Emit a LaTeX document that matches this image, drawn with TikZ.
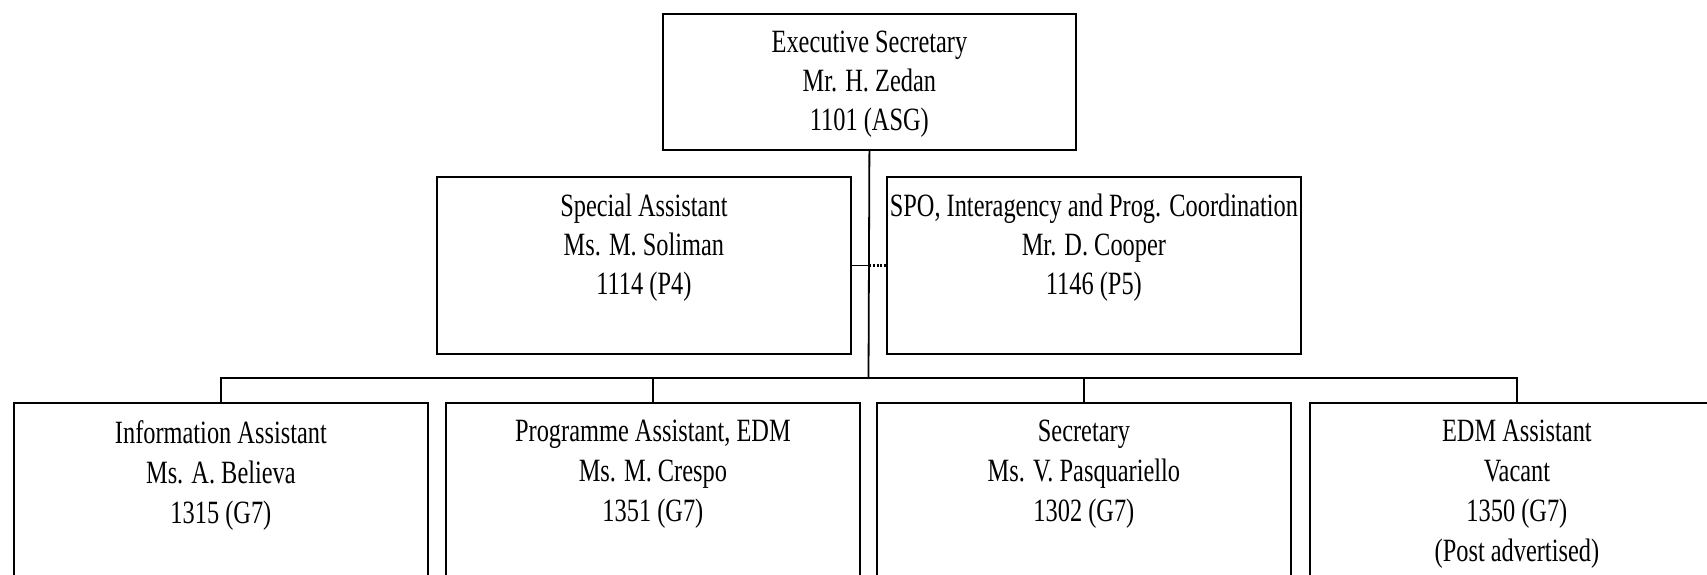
\documentclass[tikz,border=0pt]{standalone}
\usepackage{fontspec}
\setmainfont[FakeStretch=0.75]{Liberation Serif}
\begin{document}
\begin{tikzpicture}[x=1pt,y=-1pt,
  box/.style={draw=black, line width=1.8pt, rectangle, inner sep=0pt, anchor=north west, minimum width=414pt},
  lbl/.style={align=center, anchor=north, inner sep=0pt, font=\fontsize{32.5}{39}\selectfont},
  lblb/.style={lbl, font=\fontsize{32.5}{40}\selectfont},
  conn/.style={line width=1.8pt},
  dotconn/.style={line width=2.4pt, dash pattern=on 2pt off 1.6pt}]
\useasboundingbox (0,0) rectangle (1707,574);
\clip (0,0) rectangle (1707,574);
% boxes
\node[box, minimum width=413pt, minimum height=136pt] (es) at (662,13) {};
\node[box, minimum height=177pt] (sa) at (436,176) {};
\node[box, minimum height=177pt] (spo) at (886,176) {};
\node[box, minimum height=250pt] (b1) at (13,402) {};
\node[box, minimum height=250pt] (b2) at (445,402) {};
\node[box, minimum height=250pt] (b3) at (876,402) {};
\node[box, minimum height=250pt] (b4) at (1309,402) {};
% texts
\node[lbl] (est) at ([yshift=-18pt]es.north) {Executive Secretary\\Mr. H. Zedan\\1101 (ASG)};
\node[lbl] (sat) at ([yshift=-18pt]sa.north) {Special Assistant\\Ms. M. Soliman\\1114 (P4)};
\node[lbl] (spot) at ([yshift=-18pt]spo.north) {SPO, Interagency and Prog. Coordination\\Mr. D. Cooper\\1146 (P5)};
\node[lblb] (b1t) at ([yshift=-18pt]b1.north) {Information Assistant\\Ms. A. Believa\\1315 (G7)};
\node[lblb] (b2t) at ([yshift=-18pt]b2.north) {Programme Assistant, EDM\\Ms. M. Crespo\\1351 (G7)};
\node[lblb] (b3t) at ([yshift=-18pt]b3.north) {Secretary\\Ms. V. Pasquariello\\1302 (G7)};
\node[lblb] (b4t) at ([yshift=-18pt]b4.north) {EDM Assistant\\Vacant\\1350 (G7)\\(Post advertised)};
% connectors
\coordinate (bus) at (868.5,378);
\draw[conn] (es.south) -- (bus);
\draw[conn] (b1.north) -- ++(0,-24) -| (b4.north);
\draw[conn] (b2.north) -- ++(0,-24);
\draw[conn] (b3.north) -- ++(0,-24);
\draw[conn] (sa.east) -- (sa.east -| es.south);
\draw[dotconn] (sa.east -| es.south) -- (spo.west);
\end{tikzpicture}
\end{document}
